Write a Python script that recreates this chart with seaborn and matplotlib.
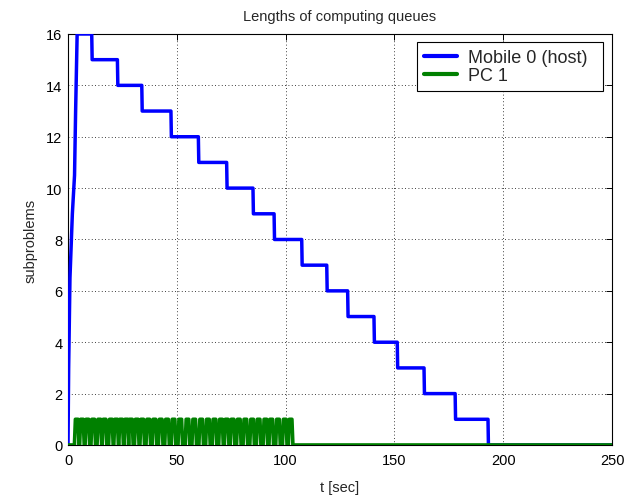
import numpy as np
import pandas as pd
import matplotlib
matplotlib.use("Agg")
import matplotlib.pyplot as plt
import seaborn as sns

# Mobile 0 (host): initial burst of generated subproblems
host_rise_t = [0.0, 0.3, 0.9, 2.0, 3.0, 3.5, 4.2]
host_rise_q = [0, 3, 6.5, 9, 10.5, 13, 16]
# times at which the host queue shrinks by one, and the level after each drop
host_drop_t = [10.9, 22.7, 33.9, 47.3, 59.9, 72.9, 85.0, 94.7, 107.4,
               118.9, 128.5, 140.6, 151.3, 163.6, 177.9, 193.0]
host_drop_q = [15, 14, 13, 12, 11, 10, 9, 8, 7, 6, 5, 4, 3, 2, 1, 0]

# PC 1: centres of the stretches during which it holds one subproblem;
# between consecutive stretches its queue runs empty
pc1_busy_t = [4.0, 6.4, 8.9, 11.6, 14.4, 16.8, 19.7, 22.1, 24.4, 26.8,
              28.9, 31.6, 34.1, 36.9, 39.7, 42.6, 45.5, 48.5, 51.6, 54.9,
              58.0, 61.2, 64.3, 67.3, 70.3, 72.9, 75.6, 78.5, 81.5, 84.6,
              87.6, 90.7, 93.4, 96.5, 99.6, 102.3]

t_end = 250
x_ticks = [0, 50, 100, 150, 200, 250]
y_ticks = [0, 2, 4, 6, 8, 10, 12, 14, 16]

# host series as a polyline: ramp, then near-vertical drops
ht = list(host_rise_t)
hq = list(host_rise_q)
level = host_rise_q[-1]
for t, q in zip(host_drop_t, host_drop_q):
    ht += [t, t + 0.2]
    hq += [level, q]
    level = q
ht.append(t_end)
hq.append(level)
host = pd.DataFrame({"t": ht, "q": hq})

# PC 1 series: each busy stretch is a short plateau at 1 with sampled edges
hold = 1.2    # plateau length
edge = 0.45   # time between samples on a transition
pt = [0.0]
pq = [0]
for c in pc1_busy_t:
    pt += [c - hold / 2 - edge, c - hold / 2, c + hold / 2, c + hold / 2 + edge]
    pq += [0, 1, 1, 0]
pt.append(t_end)
pq.append(0)
pc1 = pd.DataFrame({"t": pt, "q": pq})

sns.set_theme(style="white")
plt.rcParams["font.family"] = ["Liberation Sans", "DejaVu Sans"]
plt.rcParams["font.size"] = 10.5

fig = plt.figure(figsize=(6.32, 5.02), dpi=100)
ax = fig.add_axes([0.1076, 0.1116, 0.8608, 0.8187])

sns.lineplot(data=host, x="t", y="q", sort=False, estimator=None, ax=ax,
             color="#0000ff", lw=2.5, label="Mobile 0 (host)", zorder=3)
sns.lineplot(data=pc1, x="t", y="q", sort=False, estimator=None, ax=ax,
             color="#008000", lw=2.6, label="PC 1", zorder=4)

ax.set_xlim(0, 250)
ax.set_ylim(0, 16)
ax.set_xticks(x_ticks)
ax.set_yticks(y_ticks)
ax.tick_params(direction="in", length=4, width=0.7, top=True, right=True,
               labelsize=10.5, colors="black", pad=4)
ax.tick_params(axis="x", pad=6)
ax.grid(True, color="black", linestyle=(0, (1, 3)), linewidth=0.6)
for s in ax.spines.values():
    s.set_color("black")
    s.set_linewidth(0.8)

ax.set_title("Lengths of computing queues", fontsize=10.5, pad=10)
ax.set_xlabel("t [sec]", fontsize=10.5, labelpad=9)
ax.set_ylabel("subproblems", fontsize=10.5, labelpad=6)

leg = ax.legend(loc="upper left", bbox_to_anchor=(0.6415, 0.8662, 0.342, 0.1143),
                mode="expand", borderaxespad=0, fontsize=13, frameon=True,
                fancybox=False, handlelength=1.8, handletextpad=0.6,
                borderpad=0.4, labelspacing=0.05)
leg.get_frame().set_edgecolor("black")
leg.get_frame().set_linewidth(0.8)
leg.get_frame().set_alpha(1)
for line in leg.get_lines():
    line.set_linewidth(3)

fig.savefig("out.png", dpi=100, facecolor="white")
